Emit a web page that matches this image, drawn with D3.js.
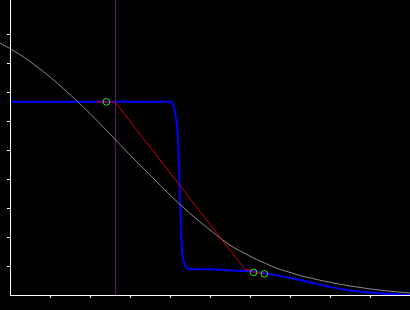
<!DOCTYPE html>
<html>
<head>
<meta charset="utf-8">
<script src="https://cdn.jsdelivr.net/npm/d3@7"></script>
<style>
  html, body { margin: 0; padding: 0; background: #000; overflow: hidden; }
  svg { display: block; }
</style>
</head>
<body>
<div id="chart"></div>
<script>
// reference curve (gray)
const grayX = [-0.25, 0, 0.25, 0.5, 0.75, 1, 1.25, 1.5, 1.75, 2, 2.25, 2.5, 2.75, 3, 3.25, 3.5, 3.75, 4, 4.25, 4.5, 4.75, 5,
    5.25, 5.5, 5.75, 6, 6.25, 6.5, 6.75, 7, 7.25, 7.5, 7.75, 8, 8.25, 8.5, 8.75, 9, 9.25, 9.5, 9.75, 10];
const grayY = [0.869, 0.850, 0.829, 0.805, 0.779, 0.752, 0.722, 0.691, 0.659, 0.626, 0.591, 0.555, 0.519, 0.483, 0.448, 0.414,
    0.379, 0.345, 0.312, 0.281, 0.252, 0.224, 0.197, 0.172, 0.152, 0.134, 0.117, 0.102, 0.088, 0.078, 0.067, 0.059, 0.051,
    0.044, 0.037, 0.031, 0.026, 0.021, 0.017, 0.013, 0.010, 0.007];

// fitted step (blue)
const blueX = [0, 4.0, 4.07, 4.125, 4.175, 4.2, 4.225, 4.25, 4.275, 4.3, 4.35, 4.425, 4.5, 5.125, 5.675, 6.0, 6.5, 7.25, 8.0, 8.75, 9.75, 10.0];
const blueY = [0.666, 0.666, 0.66, 0.628, 0.586, 0.534, 0.448, 0.328, 0.224, 0.155, 0.114, 0.093, 0.090, 0.088, 0.084, 0.082, 0.072, 0.052, 0.028, 0.011, 0.002, 0.0];

// iteration path (red) and its points (green)
const pathX = [2.15, 2.625, 5.875, 6.025, 6.1, 6.35];
const pathY = [0.666, 0.666, 0.088, 0.086, 0.079, 0.074];
const markX = [2.41, 6.09, 6.36];
const markY = [0.666, 0.078, 0.073];

const markerX = 2.625; // vertical guide
const xTicks = [1, 2, 3, 4, 5, 6, 7, 8, 9];
const yTicks = [0.1, 0.2, 0.3, 0.4, 0.5, 0.6, 0.7, 0.8, 0.9];

const width = 410, height = 310;

const svg = d3.select("#chart").append("svg")
    .attr("width", width)
    .attr("height", height);

svg.append("rect")
    .attr("width", width)
    .attr("height", height)
    .attr("fill", "#000");

const x = d3.scaleLinear().domain([0, 10]).range([10, 410]);
const y = d3.scaleLinear().domain([0, 1]).range([295, 5]);

const line = d3.line()
    .x(d => x(d[0]))
    .y(d => y(d[1]));

// vertical guide
svg.append("line")
    .attr("x1", x(markerX) + 0.5)
    .attr("x2", x(markerX) + 0.5)
    .attr("y1", 0)
    .attr("y2", 295)
    .attr("stroke", "#5e1f60")
    .attr("stroke-width", 1);

// blue curve
svg.append("path")
    .datum(blueX.map((v, i) => [v, blueY[i]]))
    .attr("fill", "none")
    .attr("stroke", "#0000ff")
    .attr("stroke-width", 2)
    .attr("d", line.curve(d3.curveMonotoneX));

// gray curve
svg.append("path")
    .datum(grayX.map((v, i) => [v, grayY[i]]))
    .attr("fill", "none")
    .attr("stroke", "#8a8a8a")
    .attr("stroke-width", 1)
    .attr("d", line.curve(d3.curveMonotoneX));

// red path
svg.append("path")
    .datum(pathX.map((v, i) => [v, pathY[i]]))
    .attr("fill", "none")
    .attr("stroke", "#cc0000")
    .attr("stroke-width", 1)
    .attr("d", line.curve(d3.curveLinear));

// markers
svg.selectAll(".mark")
    .data(markX.map((v, i) => [v, markY[i]]))
    .enter()
    .append("circle")
    .attr("class", "mark")
    .attr("cx", d => x(d[0]))
    .attr("cy", d => y(d[1]))
    .attr("r", 3.3)
    .attr("fill", "none")
    .attr("stroke", "#22ee22")
    .attr("stroke-width", 1);

// axes
const gx = svg.append("g")
    .attr("transform", "translate(0,295)")
    .call(d3.axisBottom(x).tickValues(xTicks).tickSize(3).tickFormat(""));
const gy = svg.append("g")
    .attr("transform", "translate(10,0)")
    .call(d3.axisLeft(y).tickValues(yTicks).tickSize(3).tickFormat(""));
gx.select(".domain").remove();
gy.select(".domain").remove();
svg.selectAll(".tick line").attr("stroke", "#fff");

svg.append("line")
    .attr("x1", 10.5).attr("x2", 10.5)
    .attr("y1", 0).attr("y2", 295.5)
    .attr("stroke", "#fff");
svg.append("line")
    .attr("x1", 10).attr("x2", 410)
    .attr("y1", 295.5).attr("y2", 295.5)
    .attr("stroke", "#fff");
</script>
</body>
</html>
